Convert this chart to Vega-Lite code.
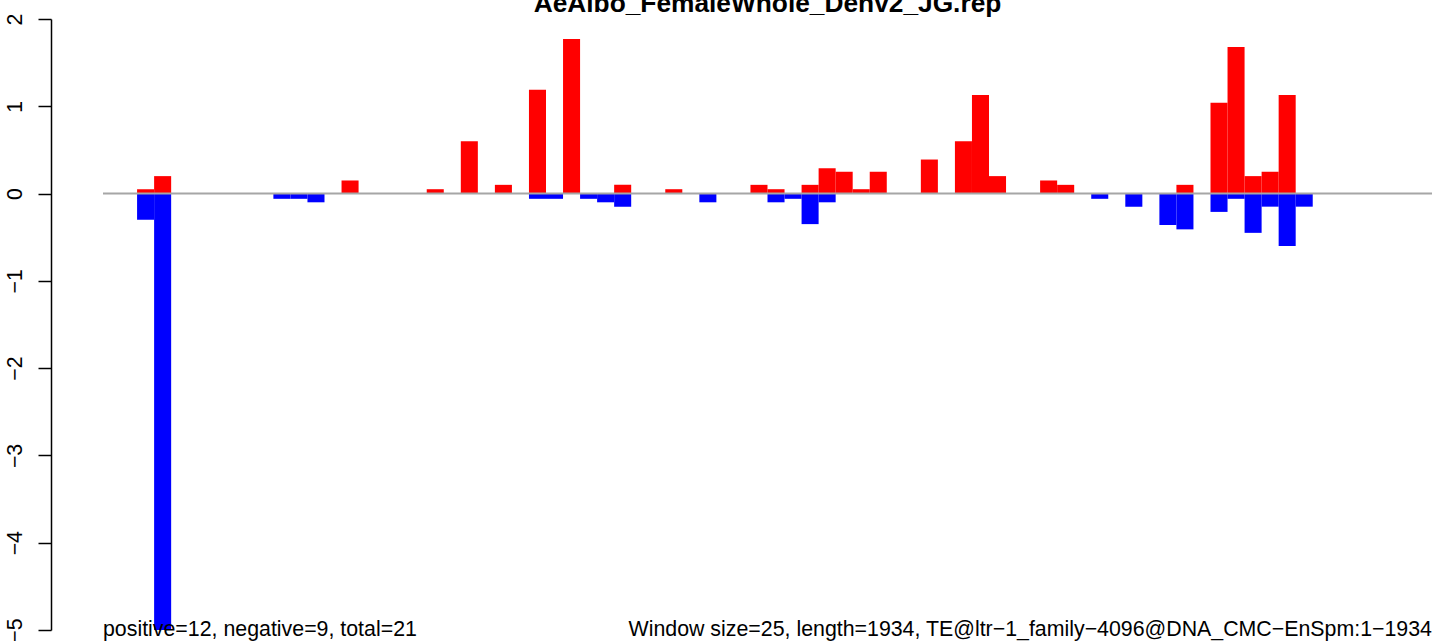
{
  "$schema": "https://vega.github.io/schema/vega-lite/v6.json",
  "width": 1329,
  "height": 611,
  "autosize": {"type": "none"},
  "padding": {"left": 103, "top": 19, "right": 12, "bottom": 11},
  "background": "white",
  "config": {"view": {"stroke": null}, "font": "Liberation Sans"},
  "datasets": {
    "bars": [
      {"start": 50, "end": 75, "value": 0.05, "dir": "positive"},
      {"start": 75, "end": 100, "value": 0.2, "dir": "positive"},
      {"start": 350, "end": 375, "value": 0.15, "dir": "positive"},
      {"start": 475, "end": 500, "value": 0.05, "dir": "positive"},
      {"start": 525, "end": 550, "value": 0.6, "dir": "positive"},
      {"start": 575, "end": 600, "value": 0.1, "dir": "positive"},
      {"start": 625, "end": 650, "value": 1.19, "dir": "positive"},
      {"start": 675, "end": 700, "value": 1.77, "dir": "positive"},
      {"start": 750, "end": 775, "value": 0.1, "dir": "positive"},
      {"start": 825, "end": 850, "value": 0.05, "dir": "positive"},
      {"start": 950, "end": 975, "value": 0.1, "dir": "positive"},
      {"start": 975, "end": 1000, "value": 0.05, "dir": "positive"},
      {"start": 1025, "end": 1050, "value": 0.1, "dir": "positive"},
      {"start": 1050, "end": 1075, "value": 0.29, "dir": "positive"},
      {"start": 1075, "end": 1100, "value": 0.25, "dir": "positive"},
      {"start": 1100, "end": 1125, "value": 0.05, "dir": "positive"},
      {"start": 1125, "end": 1150, "value": 0.25, "dir": "positive"},
      {"start": 1200, "end": 1225, "value": 0.39, "dir": "positive"},
      {"start": 1250, "end": 1275, "value": 0.6, "dir": "positive"},
      {"start": 1275, "end": 1300, "value": 1.13, "dir": "positive"},
      {"start": 1300, "end": 1325, "value": 0.2, "dir": "positive"},
      {"start": 1375, "end": 1400, "value": 0.15, "dir": "positive"},
      {"start": 1400, "end": 1425, "value": 0.1, "dir": "positive"},
      {"start": 1575, "end": 1600, "value": 0.1, "dir": "positive"},
      {"start": 1625, "end": 1650, "value": 1.04, "dir": "positive"},
      {"start": 1650, "end": 1675, "value": 1.68, "dir": "positive"},
      {"start": 1675, "end": 1700, "value": 0.2, "dir": "positive"},
      {"start": 1700, "end": 1725, "value": 0.25, "dir": "positive"},
      {"start": 1725, "end": 1750, "value": 1.13, "dir": "positive"},
      {"start": 50, "end": 75, "value": -0.3, "dir": "negative"},
      {"start": 75, "end": 100, "value": -5, "dir": "negative"},
      {"start": 250, "end": 275, "value": -0.06, "dir": "negative"},
      {"start": 275, "end": 300, "value": -0.06, "dir": "negative"},
      {"start": 300, "end": 325, "value": -0.1, "dir": "negative"},
      {"start": 625, "end": 650, "value": -0.06, "dir": "negative"},
      {"start": 650, "end": 675, "value": -0.06, "dir": "negative"},
      {"start": 700, "end": 725, "value": -0.06, "dir": "negative"},
      {"start": 725, "end": 750, "value": -0.1, "dir": "negative"},
      {"start": 750, "end": 775, "value": -0.15, "dir": "negative"},
      {"start": 875, "end": 900, "value": -0.1, "dir": "negative"},
      {"start": 975, "end": 1000, "value": -0.1, "dir": "negative"},
      {"start": 1000, "end": 1025, "value": -0.06, "dir": "negative"},
      {"start": 1025, "end": 1050, "value": -0.35, "dir": "negative"},
      {"start": 1050, "end": 1075, "value": -0.1, "dir": "negative"},
      {"start": 1450, "end": 1475, "value": -0.06, "dir": "negative"},
      {"start": 1500, "end": 1525, "value": -0.15, "dir": "negative"},
      {"start": 1550, "end": 1575, "value": -0.36, "dir": "negative"},
      {"start": 1575, "end": 1600, "value": -0.41, "dir": "negative"},
      {"start": 1625, "end": 1650, "value": -0.21, "dir": "negative"},
      {"start": 1650, "end": 1675, "value": -0.06, "dir": "negative"},
      {"start": 1675, "end": 1700, "value": -0.45, "dir": "negative"},
      {"start": 1700, "end": 1725, "value": -0.15, "dir": "negative"},
      {"start": 1725, "end": 1750, "value": -0.6, "dir": "negative"},
      {"start": 1750, "end": 1775, "value": -0.15, "dir": "negative"}
    ]
  },
  "layer": [
    {
      "data": {"name": "bars"},
      "mark": {"type": "bar", "strokeWidth": 0},
      "encoding": {
        "x": {"field": "start", "type": "quantitative", "scale": {"domain": [0, 1950], "nice": false, "zero": false}, "axis": null},
        "x2": {"field": "end"},
        "y": {
          "field": "value",
          "type": "quantitative",
          "scale": {"domain": [-5, 2], "nice": false},
          "axis": {
            "title": null,
            "values": [-5, -4, -3, -2, -1, 0, 1, 2],
            "format": "d",
            "offset": 52,
            "grid": false,
            "domainColor": "black",
            "domainWidth": 1.5,
            "tickColor": "black",
            "tickWidth": 1.5,
            "tickSize": 13,
            "labelAngle": 270,
            "labelAlign": "center",
            "labelBaseline": "alphabetic",
            "labelPadding": 17,
            "labelFont": "Liberation Sans",
            "labelFontSize": 21.3,
            "labelColor": "black",
            "labelFlush": false,
            "labelOverlap": false
          }
        },
        "y2": {"datum": 0},
        "color": {"field": "dir", "type": "nominal", "scale": {"domain": ["positive", "negative"], "range": ["#FF0000", "#0000FF"]}, "legend": null}
      }
    },
    {
      "data": {"values": [{"base": 0}]},
      "mark": {"type": "rule", "color": "#A6A6A6", "strokeWidth": 2},
      "encoding": {
        "x": {"datum": 0, "type": "quantitative"},
        "x2": {"datum": 1950},
        "y": {"field": "base", "type": "quantitative"}
      }
    },
    {
      "data": {"values": [{"label": "AeAlbo_FemaleWhole_Denv2_JG.rep"}]},
      "mark": {"type": "text", "align": "center", "baseline": "alphabetic", "dy": -7, "fontSize": 26.3, "fontWeight": "bold", "font": "Liberation Sans", "color": "black"},
      "encoding": {
        "x": {"datum": 975, "type": "quantitative"},
        "y": {"datum": 2, "type": "quantitative"},
        "text": {"field": "label"}
      }
    },
    {
      "data": {"values": [{"label": "positive=12, negative=9, total=21"}]},
      "mark": {"type": "text", "align": "left", "baseline": "alphabetic", "dy": 6, "fontSize": 21.35, "font": "Liberation Sans", "color": "black"},
      "encoding": {
        "x": {"datum": 0, "type": "quantitative"},
        "y": {"datum": -5, "type": "quantitative"},
        "text": {"field": "label"}
      }
    },
    {
      "data": {"values": [{"label": "Window size=25, length=1934, TE@ltr−1_family−4096@DNA_CMC−EnSpm:1−1934"}]},
      "mark": {"type": "text", "align": "right", "baseline": "alphabetic", "dy": 6, "fontSize": 21.35, "font": "Liberation Sans", "color": "black"},
      "encoding": {
        "x": {"datum": 1950, "type": "quantitative"},
        "y": {"datum": -5, "type": "quantitative"},
        "text": {"field": "label"}
      }
    }
  ]
}
